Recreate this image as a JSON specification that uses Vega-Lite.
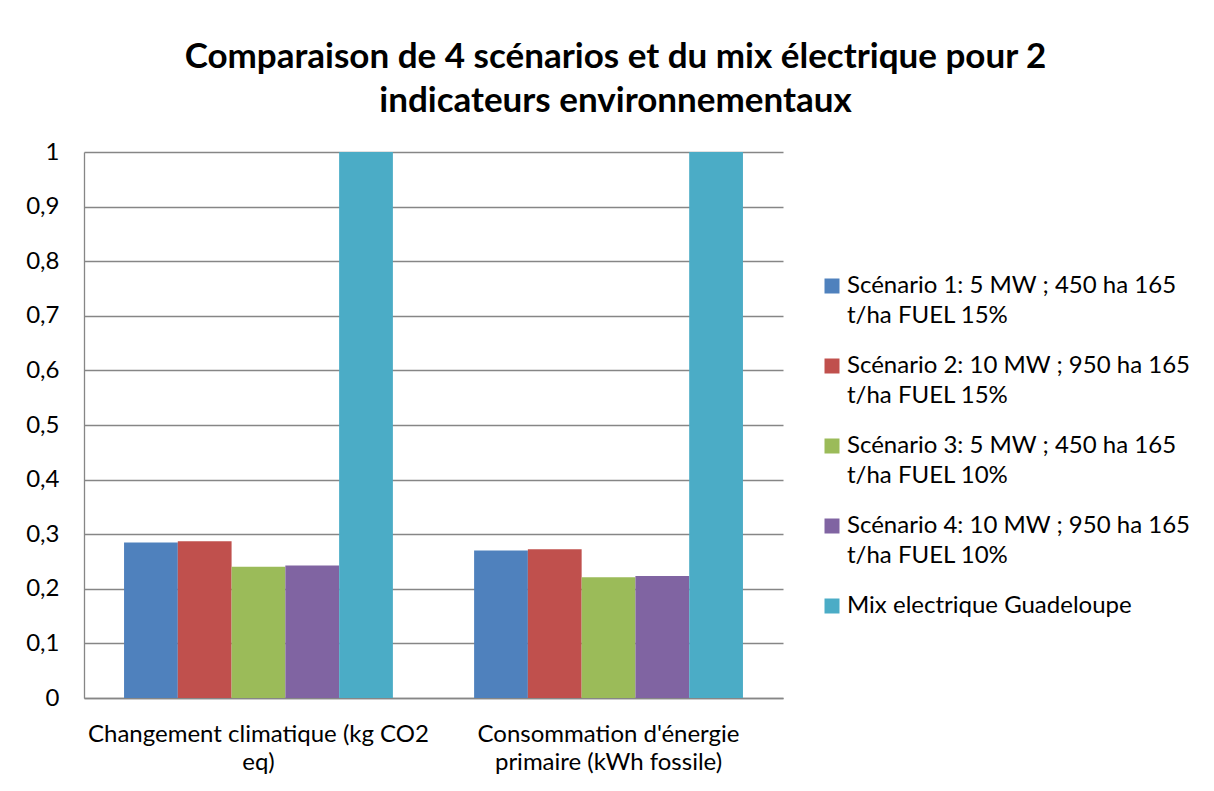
{
  "$schema": "https://vega.github.io/schema/vega-lite/v6.json",
  "autosize": {"type": "none"},
  "padding": {"left": 84, "top": 152, "right": 431, "bottom": 93},
  "width": 699,
  "height": 546,
  "background": "white",
  "title": {
    "text": ["Comparaison de 4 scénarios et du mix électrique pour 2", "indicateurs environnementaux"],
    "font": "Lato",
    "fontSize": 35,
    "fontWeight": "bold",
    "lineHeight": 44,
    "color": "black",
    "anchor": "middle",
    "frame": "group",
    "dx": 182,
    "offset": 21
  },
  "data": {
    "values": [
      {"indicateur": "Changement climatique (kg CO2 eq)", "serie": "Scénario 1: 5 MW ; 450 ha 165 t/ha FUEL 15%", "valeur": 0.285},
      {"indicateur": "Changement climatique (kg CO2 eq)", "serie": "Scénario 2: 10 MW ; 950 ha 165 t/ha FUEL 15%", "valeur": 0.287},
      {"indicateur": "Changement climatique (kg CO2 eq)", "serie": "Scénario 3: 5 MW ; 450 ha 165 t/ha FUEL 10%", "valeur": 0.2405},
      {"indicateur": "Changement climatique (kg CO2 eq)", "serie": "Scénario 4: 10 MW ; 950 ha 165 t/ha FUEL 10%", "valeur": 0.2425},
      {"indicateur": "Changement climatique (kg CO2 eq)", "serie": "Mix electrique Guadeloupe", "valeur": 1},
      {"indicateur": "Consommation d'énergie primaire (kWh fossile)", "serie": "Scénario 1: 5 MW ; 450 ha 165 t/ha FUEL 15%", "valeur": 0.27},
      {"indicateur": "Consommation d'énergie primaire (kWh fossile)", "serie": "Scénario 2: 10 MW ; 950 ha 165 t/ha FUEL 15%", "valeur": 0.2725},
      {"indicateur": "Consommation d'énergie primaire (kWh fossile)", "serie": "Scénario 3: 5 MW ; 450 ha 165 t/ha FUEL 10%", "valeur": 0.221},
      {"indicateur": "Consommation d'énergie primaire (kWh fossile)", "serie": "Scénario 4: 10 MW ; 950 ha 165 t/ha FUEL 10%", "valeur": 0.2235},
      {"indicateur": "Consommation d'énergie primaire (kWh fossile)", "serie": "Mix electrique Guadeloupe", "valeur": 1}
    ]
  },
  "mark": {"type": "bar"},
  "encoding": {
    "x": {
      "field": "indicateur",
      "type": "nominal",
      "sort": null,
      "scale": {"paddingInner": 0.232, "paddingOuter": 0.1144},
      "axis": {
        "title": null,
        "labelAngle": 0,
        "labelExpr": "indexof(datum.label, 'Changement') == 0 ? ['Changement climatique (kg CO2', 'eq)'] : [\"Consommation d'énergie\", 'primaire (kWh fossile)']",
        "labelLineHeight": 28,
        "labelPadding": 24,
        "labelBaseline": "top",
        "labelLimit": 500,
        "ticks": false,
        "domainColor": "#868686",
        "domainWidth": 1.3
      }
    },
    "xOffset": {
      "field": "serie",
      "type": "nominal",
      "sort": ["Scénario 1: 5 MW ; 450 ha 165 t/ha FUEL 15%", "Scénario 2: 10 MW ; 950 ha 165 t/ha FUEL 15%", "Scénario 3: 5 MW ; 450 ha 165 t/ha FUEL 10%", "Scénario 4: 10 MW ; 950 ha 165 t/ha FUEL 10%", "Mix electrique Guadeloupe"],
      "scale": {"paddingInner": 0, "paddingOuter": 0}
    },
    "y": {
      "field": "valeur",
      "type": "quantitative",
      "scale": {"domain": [0, 1], "nice": false},
      "axis": {
        "title": null,
        "values": [0, 0.1, 0.2, 0.3, 0.4, 0.5, 0.6, 0.7, 0.8, 0.9, 1],
        "labelExpr": "replace(format(datum.value, '.1~f'), '.', ',')",
        "labelPadding": 25,
        "ticks": false,
        "grid": true,
        "gridColor": "#868686",
        "gridWidth": 1.3,
        "domainColor": "#868686",
        "domainWidth": 1.3
      }
    },
    "color": {
      "field": "serie",
      "type": "nominal",
      "scale": {
        "domain": ["Scénario 1: 5 MW ; 450 ha 165 t/ha FUEL 15%", "Scénario 2: 10 MW ; 950 ha 165 t/ha FUEL 15%", "Scénario 3: 5 MW ; 450 ha 165 t/ha FUEL 10%", "Scénario 4: 10 MW ; 950 ha 165 t/ha FUEL 10%", "Mix electrique Guadeloupe"],
        "range": ["#4F81BD", "#C0504D", "#9BBB59", "#8064A2", "#4BACC6"]
      },
      "legend": {
        "title": null,
        "orient": "none",
        "legendX": 736,
        "legendY": 122,
        "symbolType": "square",
        "symbolSize": 225,
        "symbolStrokeWidth": 0,
        "labelOffset": 3,
        "labelLimit": 420,
        "rowPadding": 26,
        "labelExpr": "indexof(datum.label, ' t/ha') > 0 ? [slice(datum.label, 0, indexof(datum.label, ' t/ha')), slice(datum.label, indexof(datum.label, ' t/ha') + 1)] : datum.label"
      }
    }
  },
  "config": {
    "font": "Lato",
    "view": {"stroke": null},
    "axis": {"labelFont": "Lato", "labelFontSize": 24, "labelColor": "black"},
    "legend": {"labelFont": "Lato", "labelFontSize": 24, "labelColor": "black"},
    "style": {"guide-label": {"lineHeight": 30}}
  }
}
